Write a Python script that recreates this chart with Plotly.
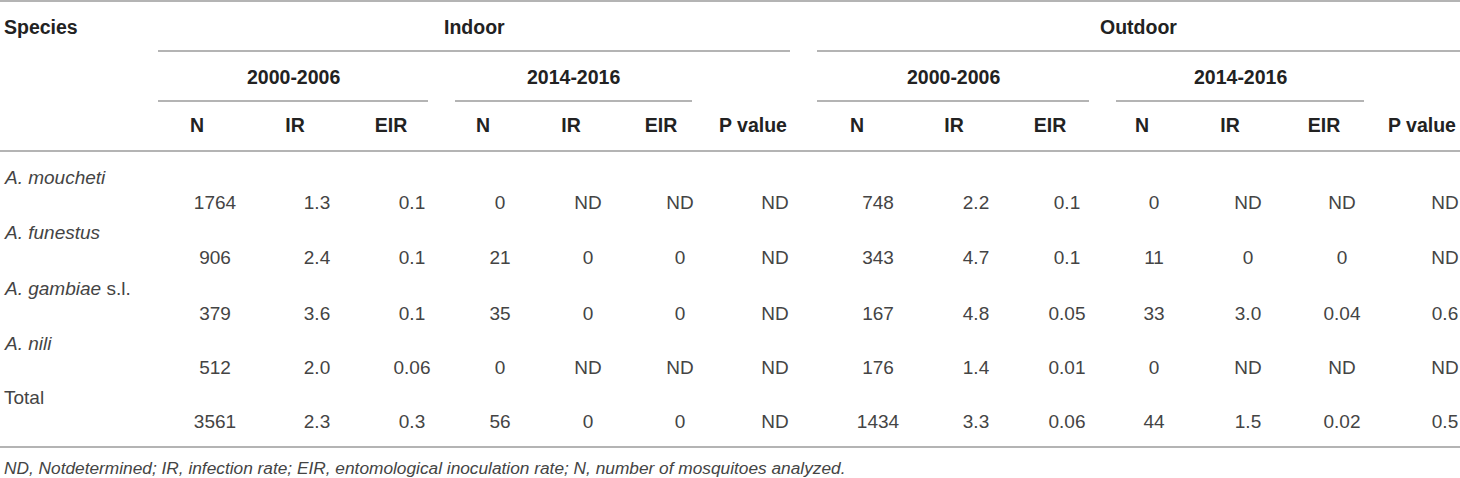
import plotly.graph_objects as go

# table values, column by column
species = ["<i>A. moucheti</i>", "<i>A. funestus</i>", "<i>A. gambiae</i> s.l.", "<i>A. nili</i>", "Total"]

in_old_n = ["1764", "906", "379", "512", "3561"]
in_old_ir = ["1.3", "2.4", "3.6", "2.0", "2.3"]
in_old_eir = ["0.1", "0.1", "0.1", "0.06", "0.3"]
in_new_n = ["0", "21", "35", "0", "56"]
in_new_ir = ["ND", "0", "0", "ND", "0"]
in_new_eir = ["ND", "0", "0", "ND", "0"]
in_p = ["ND", "ND", "ND", "ND", "ND"]

out_old_n = ["748", "343", "167", "176", "1434"]
out_old_ir = ["2.2", "4.7", "4.8", "1.4", "3.3"]
out_old_eir = ["0.1", "0.1", "0.05", "0.01", "0.06"]
out_new_n = ["0", "11", "33", "0", "44"]
out_new_ir = ["ND", "0", "3.0", "ND", "1.5"]
out_new_eir = ["ND", "0", "0.04", "ND", "0.02"]
out_p = ["ND", "ND", "0.6", "ND", "0.5"]

col_labels = ["N", "IR", "EIR", "N", "IR", "EIR", "P value",
              "N", "IR", "EIR", "N", "IR", "EIR", "P value"]
groups = ["Indoor", "Outdoor"]
periods = ["2000-2006", "2014-2016", "2000-2006", "2014-2016"]
footnote = ("<i>ND, Notdetermined; IR, infection rate; EIR, entomological inoculation rate; "
            "N, number of mosquitoes analyzed.</i>")

columns = [in_old_n, in_old_ir, in_old_eir, in_new_n, in_new_ir, in_new_eir, in_p,
           out_old_n, out_old_ir, out_old_eir, out_new_n, out_new_ir, out_new_eir, out_p]

# layout (pixel space)
W, H = 1460, 478
head_x = [197, 295, 391, 483, 571, 661, 753, 857, 954, 1050, 1142, 1230, 1324, 1422]
data_x = [215, 317, 412, 500, 588, 680, 775, 878, 976, 1067, 1154, 1248, 1342, 1445]
name_y = [177, 232, 288, 343, 397]
data_y = [204, 259, 315, 369, 423]
group_span = [(158, 790), (817, 1460)]
period_span = [(158, 428), (455, 692), (817, 1089), (1116, 1364)]

BODY = "Liberation Sans, Arial, sans-serif"
LINE = "#b4b4b4"

fig = go.Figure()

xs, ys, ts = [], [], []
for cx, col in zip(data_x, columns):
    for cy, v in zip(data_y, col):
        xs.append(cx)
        ys.append(cy)
        ts.append(v)
fig.add_trace(go.Scatter(x=xs, y=ys, text=ts, mode="text", textposition="middle center",
                         textfont=dict(family=BODY, size=19, color="#444"),
                         hoverinfo="skip", showlegend=False))

fig.add_trace(go.Scatter(x=head_x, y=[127] * len(head_x), text=[f"<b>{c}</b>" for c in col_labels],
                         mode="text", textposition="middle center",
                         textfont=dict(family=BODY, size=19.5, color="#222"),
                         hoverinfo="skip", showlegend=False))

ann = []
ann.append(dict(x=2, y=27, text="<b>Species</b>", xanchor="left"))
for (a, b), g in zip(group_span, groups):
    ann.append(dict(x=(a + b) / 2, y=27, text=f"<b>{g}</b>", xanchor="center"))
for (a, b), p in zip(period_span, periods):
    ann.append(dict(x=(a + b) / 2, y=77, text=f"<b>{p}</b>", xanchor="center"))
for cy, s in zip(name_y, species):
    ann.append(dict(x=2, y=cy, text=s, xanchor="left", font=dict(family=BODY, size=19, color="#444")))
ann.append(dict(x=2, y=468, text=footnote, xanchor="left", font=dict(family=BODY, size=17.3, color="#444")))
for a in ann:
    a.setdefault("font", dict(family=BODY, size=19.5, color="#222"))
    a.update(xref="x", yref="y", yanchor="middle", showarrow=False)

shapes = []
def hline(x0, x1, y):
    shapes.append(dict(type="line", xref="x", yref="y", x0=x0, x1=x1, y0=y, y1=y,
                       line=dict(color=LINE, width=2)))
hline(0, W, 1)
for a, b in group_span:
    hline(a, b, 51)
for a, b in period_span:
    hline(a, b, 101)
hline(0, W, 151)
hline(0, W, 447)

fig.update_layout(width=W, height=H, margin=dict(l=0, r=0, t=0, b=0),
                  paper_bgcolor="white", plot_bgcolor="white",
                  xaxis=dict(range=[0, W], visible=False, fixedrange=True),
                  yaxis=dict(range=[H, 0], visible=False, fixedrange=True),
                  annotations=ann, shapes=shapes)

# the page's default body margin would push the table 8px off
fig.write_html("out.html", config={"displayModeBar": False},
               post_script="document.body.style.margin='0';")
